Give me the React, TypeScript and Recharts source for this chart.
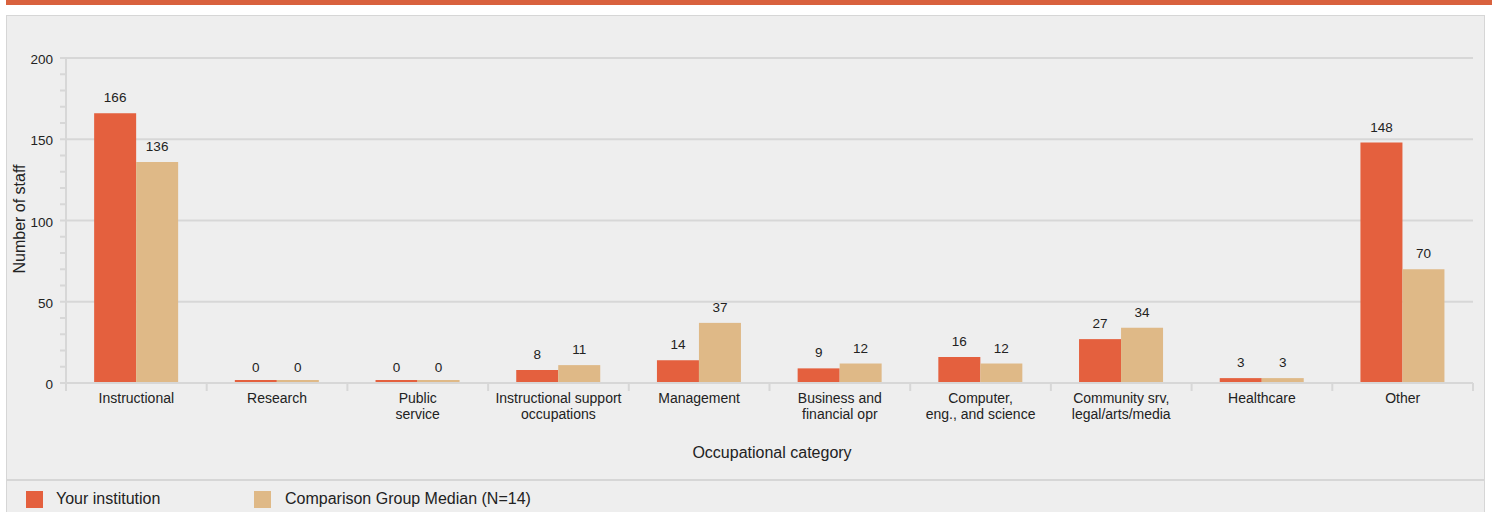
import React from 'react';
import { BarChart, Bar, XAxis, YAxis, CartesianGrid, LabelList } from 'recharts';

const categories = [
  'Instructional',
  'Research',
  'Public\nservice',
  'Instructional support\noccupations',
  'Management',
  'Business and\nfinancial opr',
  'Computer,\neng., and science',
  'Community srv,\nlegal/arts/media',
  'Healthcare',
  'Other',
];
const institutionValues = [166, 0, 0, 8, 14, 9, 16, 27, 3, 148];
const medianValues = [136, 0, 0, 11, 37, 12, 12, 34, 3, 70];
const yTicks = [0, 10, 20, 30, 40, 50, 60, 70, 80, 90, 100, 110, 120, 130, 140, 150, 160, 170, 180, 190, 200];
const yLabelTicks = [0, 50, 100, 150, 200];
const gridValues = [50, 100, 150, 200];

const seriesNames = ['Your institution', 'Comparison Group Median (N=14)'];
const RED = '#E4603E';
const TAN = '#DFB987';
const GRID = '#D7D7D7';
const TEXT = '#222222';
const FONT = '"Liberation Sans", Arial, sans-serif';

const data = categories.map((c, i) => ({
  category: c,
  inst: institutionValues[i],
  median: medianValues[i],
}));

const XTick = (props: any) => {
  const { x, y, payload } = props;
  const half = payload && payload.offset ? payload.offset : 70.35;
  const lines = String(payload.value).split('\n');
  const isLast = payload.index === categories.length - 1;
  return (
    <g>
      <line x1={x - half} x2={x - half} y1={y} y2={y + 8} stroke={GRID} strokeWidth={2} />
      {isLast && <line x1={x + half} x2={x + half} y1={y} y2={y + 8} stroke={GRID} strokeWidth={2} />}
      {lines.map((l, i) => (
        <text key={i} x={x} y={y + 20 + i * 16} textAnchor="middle" fontSize={14} fill={TEXT} fontFamily={FONT}>
          {l}
        </text>
      ))}
    </g>
  );
};

const YTick = (props: any) => {
  const { x, y, payload } = props;
  if (!yLabelTicks.includes(payload.value)) return <g />;
  return (
    <text x={x - 7} y={y + 6} textAnchor="end" fontSize={13.5} fill={TEXT} fontFamily={FONT}>
      {payload.value}
    </text>
  );
};

const MinBar = (props: any) => {
  const { x, y, width, height, fill } = props;
  const hh = height || 0;
  const base = (y || 0) + hh;
  if (hh < 3) {
    return <rect x={x} y={base - 3} width={width} height={3} fill={fill} />;
  }
  return <rect x={x} y={y} width={width} height={hh} fill={fill} />;
};

export default function App() {
  return (
    <div style={{ position: 'fixed', left: 0, top: 0, width: 1492, height: 512, background: '#fff', overflow: 'hidden', fontFamily: FONT }}>
      <div style={{ position: 'absolute', left: 6, top: 0, width: 1486, height: 5, background: '#D9623E' }} />
      <div style={{ position: 'absolute', left: 6, top: 15, width: 1477, height: 520, background: '#EEEEEE', border: '1px solid #D6D6D6' }} />
      <div style={{ position: 'absolute', left: 7, top: 479, width: 1477, height: 2, background: '#D6D6D6' }} />
      <div style={{ position: 'absolute', left: 0, top: 0 }}>
        <BarChart
          width={1492}
          height={512}
          data={data}
          margin={{ top: 58, right: 19, bottom: 69, left: 6 }}
          barCategoryGap="20%"
          barGap={0}
        >
          <CartesianGrid vertical={false} horizontalValues={gridValues} stroke={GRID} strokeWidth={2} />
          <XAxis
            dataKey="category"
            interval={0}
            height={60}
            tickSize={0}
            tickMargin={0}
            tickLine={false}
            axisLine={{ stroke: GRID, strokeWidth: 2 }}
            tick={<XTick />}
          />
          <YAxis
            domain={[0, 200]}
            ticks={yTicks}
            interval={0}
            width={60}
            tickSize={6}
            tickMargin={0}
            tickLine={{ stroke: GRID, strokeWidth: 2 }}
            axisLine={{ stroke: GRID, strokeWidth: 2 }}
            tick={<YTick />}
          />
          <YAxis
            yAxisId="right"
            orientation="right"
            domain={[0, 200]}
            width={0}
            tick={false}
            tickLine={false}
            axisLine={{ stroke: GRID, strokeWidth: 2 }}
          />
          <Bar dataKey="inst" name={seriesNames[0]} fill={RED} isAnimationActive={false} shape={<MinBar />}>
            <LabelList dataKey="inst" position="top" offset={11} fontSize={13.5} fill={TEXT} fontFamily={FONT} />
          </Bar>
          <Bar dataKey="median" name={seriesNames[1]} fill={TAN} isAnimationActive={false} shape={<MinBar />}>
            <LabelList dataKey="median" position="top" offset={11} fontSize={13.5} fill={TEXT} fontFamily={FONT} />
          </Bar>
        </BarChart>
      </div>
      <div style={{ position: 'absolute', left: 19.5, top: 219, width: 0, height: 0 }}>
        <div style={{ position: 'absolute', left: 0, top: 0, transform: 'translate(-50%, -50%) rotate(-90deg)', whiteSpace: 'nowrap', fontSize: 16, lineHeight: '18px', color: TEXT }}>
          Number of staff
        </div>
      </div>
      <div style={{ position: 'absolute', left: 772, top: 453, width: 0, height: 0 }}>
        <div style={{ position: 'absolute', left: 0, top: 0, transform: 'translate(-50%, -50%)', whiteSpace: 'nowrap', fontSize: 16, lineHeight: '18px', color: TEXT }}>
          Occupational category
        </div>
      </div>
      <div style={{ position: 'absolute', left: 26, top: 491, width: 17, height: 17, background: RED }} />
      <div style={{ position: 'absolute', left: 56, top: 490, fontSize: 16, lineHeight: '18px', color: TEXT, whiteSpace: 'nowrap' }}>{seriesNames[0]}</div>
      <div style={{ position: 'absolute', left: 254, top: 491, width: 17, height: 17, background: TAN }} />
      <div style={{ position: 'absolute', left: 285, top: 490, fontSize: 16, lineHeight: '18px', color: TEXT, whiteSpace: 'nowrap' }}>{seriesNames[1]}</div>
    </div>
  );
}
